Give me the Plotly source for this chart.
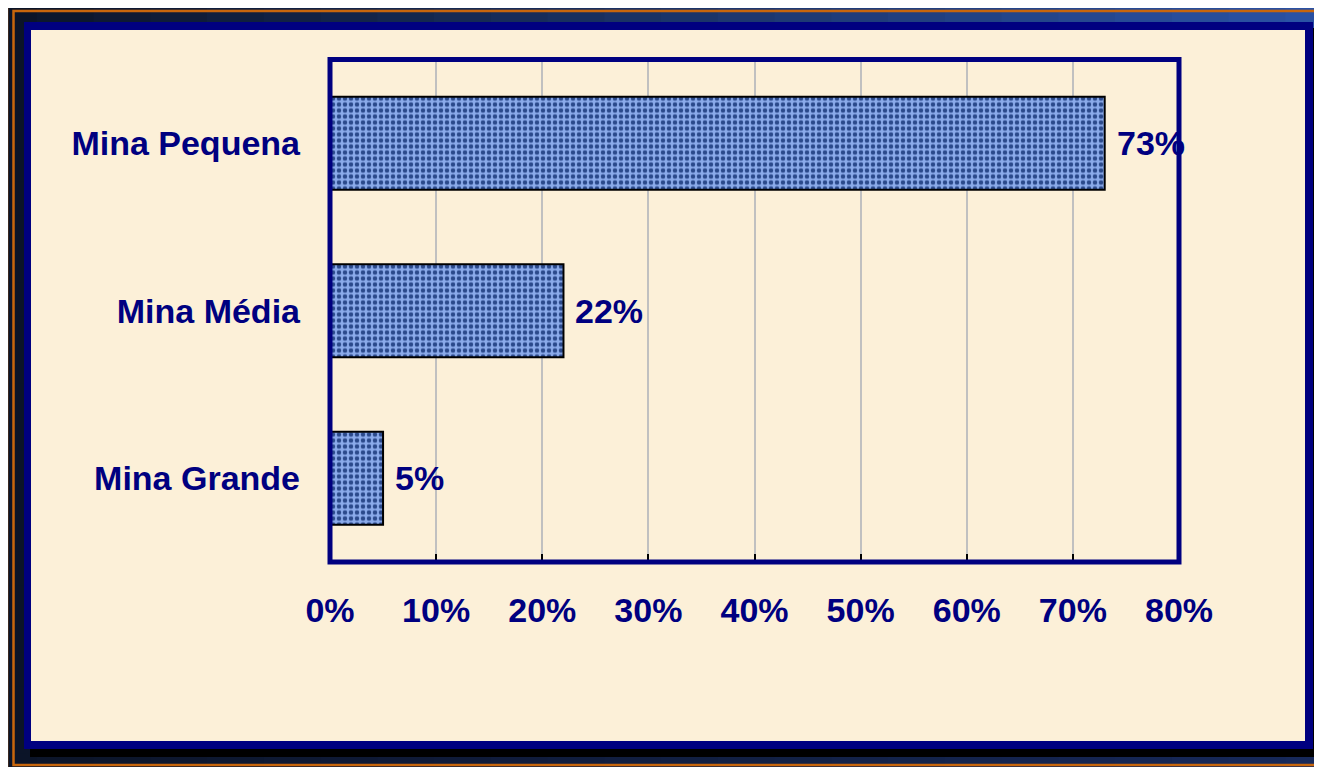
import plotly.graph_objects as go

# ---- data ----
categories = ["Mina Pequena", "Mina Média", "Mina Grande"]
values = [0.73, 0.22, 0.05]
value_labels = ["73%", "22%", "5%"]
tick_vals = [0, 0.1, 0.2, 0.3, 0.4, 0.5, 0.6, 0.7, 0.8]
tick_text = ["0%", "10%", "20%", "30%", "40%", "50%", "60%", "70%", "80%"]

W, H = 1322, 767
OFF = 8  # page body margin offset
NAVY = "#000080"
ORANGE = "#c8660c"
CREAM = "#fcf0d8"
FONT = "Liberation Sans, Arial, sans-serif"


def px(x):
    return (x - OFF) / W


def py(y):
    return 1 - (y - OFF) / H


def lerp(c1, c2, t):
    a = [int(c1[i:i + 2], 16) for i in (1, 3, 5)]
    b = [int(c2[i:i + 2], 16) for i in (1, 3, 5)]
    return "#" + "".join(f"{round(a[k] + (b[k] - a[k]) * t):02x}" for k in range(3))


shapes = []


def rect(x0, y0, x1, y1, fill=None, line_color=None, line_width=0, layer="below"):
    d = dict(type="rect", xref="paper", yref="paper", x0=px(x0), x1=px(x1), y0=py(y1), y1=py(y0),
             layer=layer, line=dict(width=line_width, color=line_color or "rgba(0,0,0,0)"))
    d["fillcolor"] = fill if fill else "rgba(0,0,0,0)"
    shapes.append(d)


# background gradient (outer frame)
N = 24
for i in range(N):
    t = i / (N - 1)
    x0 = -20 + (W + 40) * i / N
    x1 = -20 + (W + 40) * (i + 1) / N + 1
    rect(x0, -20, x1, 24, fill=lerp("#0b1428", "#2a52a5", t))
    rect(x0, 745, x1, H + 20, fill=lerp("#0b1428", "#17295a", t))
for j in range(N):
    t = j / (N - 1)
    y0 = -20 + (H + 40) * j / N
    y1 = -20 + (H + 40) * (j + 1) / N + 1
    rect(-20, y0, 26, y1, fill="#0b1428")
    rect(1310, y0, W + 20, y1, fill=lerp("#2a52a5", "#17295a", t))

# orange lines
rect(7, 5.5, W + 20, H + 20, line_color=ORANGE, line_width=2.5)
rect(13.5, 11, W + 10, 765, line_color=ORANGE, line_width=2.5)

# shadow
rect(30, 28, 1320, 757, fill="#000000")
# navy border + cream panel
rect(24, 22, 1313, 749, fill=NAVY)
rect(31, 30, 1305, 741, fill=CREAM)

# plot frame (thick navy)
shapes.append(dict(type="rect", xref="x domain", yref="y domain", x0=0, x1=1, y0=0, y1=1,
                   layer="above", line=dict(color=NAVY, width=5)))

fig = go.Figure()
fig.add_trace(go.Bar(
    x=values, y=categories, orientation="h", width=0.555,
    marker=dict(
        color="#86a6e4",
        line=dict(color="#000000", width=2),
        pattern=dict(shape=".", fgcolor="#2b4a8c", bgcolor="#8aaaea", size=6, solidity=0.45,
                     fillmode="replace"),
    ),
    hoverinfo="skip",
))

annotations = [
    dict(x=v, y=c, xref="x", yref="y", text=t, showarrow=False, xanchor="left", xshift=10,
         font=dict(family=FONT, size=34, color=NAVY, weight="bold"))
    for v, c, t in zip(values, categories, value_labels)
]

fig.update_layout(
    width=W, height=H,
    autosize=False,
    margin=dict(l=0, r=0, t=0, b=0, pad=0, autoexpand=False),
    paper_bgcolor="#14254f",
    plot_bgcolor="#ffffff",
    showlegend=False,
    shapes=shapes,
    annotations=annotations,
    xaxis=dict(
        domain=[px(330), px(1179)],
        range=[0, 0.8],
        tickvals=tick_vals, ticktext=tick_text,
        showgrid=True, gridcolor="#c0c0c0", gridwidth=2,
        ticks="inside", ticklen=8, tickwidth=2, tickcolor="#000000",
        showline=False, zeroline=False,
        ticklabelstandoff=25,
        automargin=False,
        tickfont=dict(family=FONT, size=34, color=NAVY, weight="bold"),
        fixedrange=True,
    ),
    yaxis=dict(
        domain=[py(562), py(59.5)],
        categoryorder="array", categoryarray=categories, autorange="reversed",
        showgrid=False, showline=False, zeroline=False, ticks="",
        ticklabelstandoff=29,
        automargin=False,
        tickfont=dict(family=FONT, size=34, color=NAVY, weight="bold"),
        fixedrange=True,
    ),
)

fig.write_html("out.html")
